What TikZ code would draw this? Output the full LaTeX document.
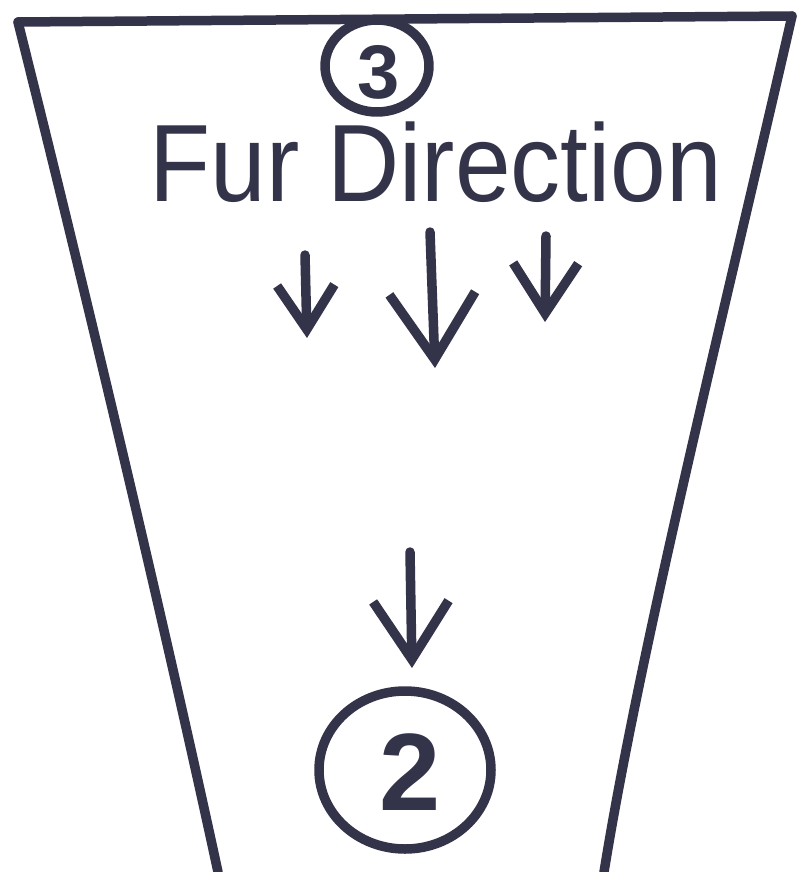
\documentclass[tikz,border=0pt]{standalone}
\usepackage{fontspec}
\setmainfont{Liberation Sans}
\usetikzlibrary{arrows.meta,shapes.geometric}
\begin{document}
\begin{tikzpicture}[x=1pt,y=-1pt,
  ink/.style={draw=black!85!blue!60!gray, line width=9.5pt, line cap=round, line join=round},
  inkarrow/.style={ink, -{Straight Barb[length=#1pt, width=1.3*#1pt, line width=9.5pt]}},
  lbl/.style={font=\fontsize{100}{100}\selectfont, text=black!85!blue!60!gray, inner sep=0pt}
]
\useasboundingbox (0,0) rectangle (800,872);
\fill[white] (0,0) rectangle (800,872);
% frame
\coordinate (tl) at (18,22);
\coordinate (tr) at (792,16);
\coordinate (bl) at (218,872);
\coordinate (br) at (604,872);
\draw[ink] (tl) -- (tr);
\draw[ink] (tl) .. controls (95,330) and (170,650) .. (bl);
\draw[ink] (tr) .. controls (720,330) and (640,650) .. (br);
% circle 3
\node[ink, ellipse, minimum width=104pt, minimum height=92pt, inner sep=0pt] (c3) at (377,66) {};
\node[font=\fontsize{76}{76}\selectfont\bfseries, text=black!85!blue!60!gray, inner sep=0pt] (n3) at (379,72) {3};
% title
\node[lbl, yscale=1.1] (title) at (436,162) {Fur Direction};
% arrows
\coordinate (a1s) at (305,255); \coordinate (a1e) at (307,338);
\coordinate (a2s) at (430,232); \coordinate (a2e) at (435,368);
\coordinate (a3s) at (546,236); \coordinate (a3e) at (545,322);
\coordinate (a4s) at (410,552); \coordinate (a4e) at (412,668);
\draw[inkarrow=44] (a1s) -- (a1e);
\draw[inkarrow=66] (a2s) -- (a2e);
\draw[inkarrow=50] (a3s) -- (a3e);
\draw[inkarrow=58] (a4s) -- (a4e);
% circle 2
\node[ink, ellipse, minimum width=172pt, minimum height=158pt, inner sep=0pt] (c2) at (405,770) {};
\node[font=\fontsize{110}{110}\selectfont\bfseries, text=black!85!blue!60!gray, inner sep=0pt] (n2) at (410,772) {2};
\end{tikzpicture}
\end{document}
